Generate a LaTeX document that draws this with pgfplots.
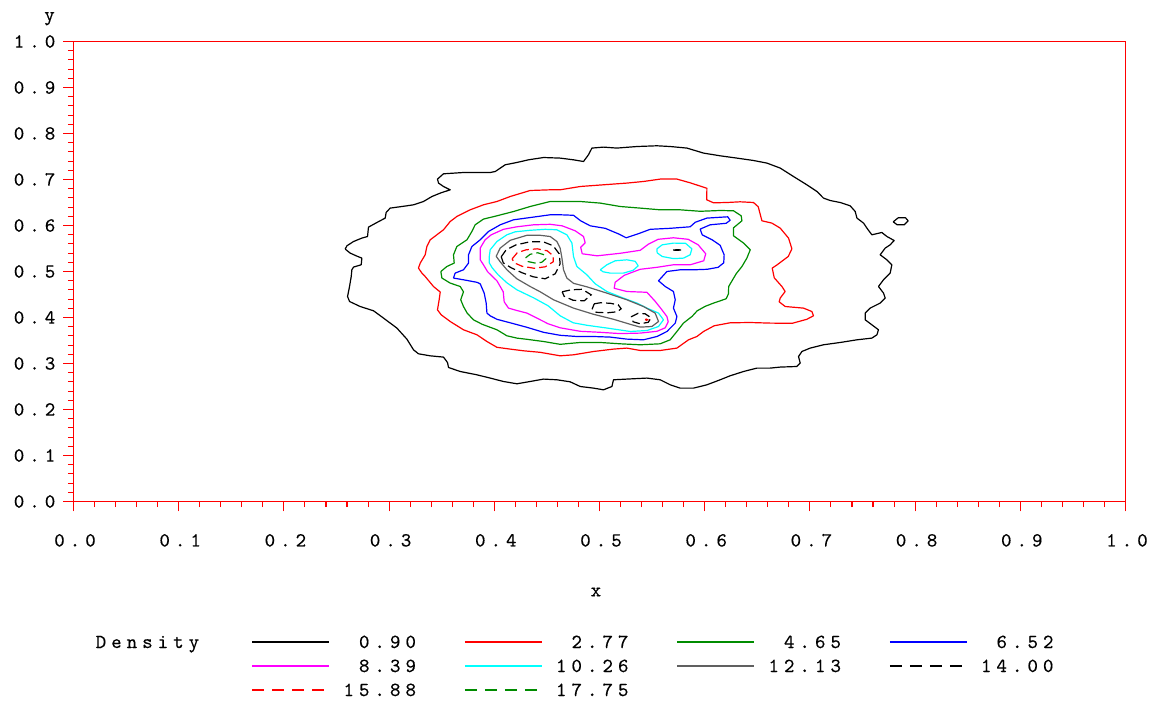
\documentclass[border=0pt]{standalone}
\usepackage{fontspec}
\setmonofont{lmmono10-regular.otf}[LetterSpace=25, FakeBold=0.3]
\usepackage{pgfplots}
\pgfplotsset{compat=1.18}
\definecolor{cgreen}{RGB}{0,140,0}
\definecolor{cgray}{RGB}{96,96,96}
\definecolor{cmag}{RGB}{255,0,255}
\definecolor{ccyan}{RGB}{0,255,255}
\newcommand\f{\fontsize{20pt}{22pt}\ttfamily\selectfont}
\begin{document}
\begin{tikzpicture}[x=1pt,y=1pt]
\path[use as bounding box] (0,0) rectangle (1152,705);
\begin{axis}[
  at={(73.5pt,203.5pt)}, anchor=south west,
  scale only axis, width=1052pt, height=460pt,
  xmin=0, xmax=1, ymin=0, ymax=1,
  no markers,
  axis line style={red, line width=1.4pt},
  xtick={0,0.1,0.2,0.3,0.4,0.5,0.6,0.7,0.8,0.9,1},
  ytick={0,0.1,0.2,0.3,0.4,0.5,0.6,0.7,0.8,0.9,1},
  minor x tick num=4, minor y tick num=4,
  tick align=outside, tick pos=left,
  major tick length=10pt, minor tick length=5.5pt,
  every tick/.style={red, line width=1.1pt},
  /pgf/number format/fixed, /pgf/number format/fixed zerofill,
  /pgf/number format/precision=1, /pgf/number format/assume math mode=true,
  tick label style={font=\f, inner sep=0pt},
  xticklabel style={anchor=base, yshift=-35pt, xshift=1.5pt},
  yticklabel style={anchor=east, xshift=-8pt},
  every axis x label/.style={at={(axis description cs:0.4966,-0.2061)}, anchor=base, font=\f, inner sep=0pt},
  every axis y label/.style={at={(axis description cs:-0.0228,1.045)}, anchor=base, font=\f, inner sep=0pt},
  xlabel={x}, ylabel={y},
  legend columns=4,
  legend style={at={(0.1692,-0.2924)}, anchor=north west, draw=none, fill=none,
    inner sep=0pt, outer sep=0pt, column sep=11pt, row sep=12pt, font=\f,
    nodes={inner sep=0pt, text width=75pt, align=right, text height=12pt, text depth=0pt},
    /tikz/every even column/.append style={column sep=48pt}},
  legend image code/.code={\draw[#1] (0pt,0pt) -- (77pt,0pt);},
]
% ---- legend images ----
\addlegendimage{black, line width=1.5pt}\addlegendentry{0.90}
\addlegendimage{red, line width=1.5pt}\addlegendentry{2.77}
\addlegendimage{cgreen, line width=1.5pt}\addlegendentry{4.65}
\addlegendimage{blue, line width=1.5pt}\addlegendentry{6.52}
\addlegendimage{cmag, line width=1.5pt}\addlegendentry{8.39}
\addlegendimage{ccyan, line width=1.5pt}\addlegendentry{10.26}
\addlegendimage{cgray, line width=1.5pt}\addlegendentry{12.13}
\addlegendimage{black, line width=1.5pt, dash pattern=on 12pt off 8pt}\addlegendentry{14.00}
\addlegendimage{red, line width=1.5pt, dash pattern=on 12pt off 8pt}\addlegendentry{15.88}
\addlegendimage{cgreen, line width=1.5pt, dash pattern=on 12pt off 8pt}\addlegendentry{17.75}
% ---- density 0.90 ----
\addplot[forget plot, black, line width=1.2pt, line join=round] coordinates {
(0.2583,0.5487) (0.2599,0.5559) (0.2662,0.5652) (0.2741,0.5726) (0.2795,0.5761) (0.2804,0.5965) (0.2884,0.6065) (0.2963,0.6161) (0.2972,0.6283) (0.3010,0.6378) (0.3169,0.6428) (0.3232,0.6450) (0.3327,0.6522) (0.3407,0.6630) (0.3486,0.6704) (0.3581,0.6776) (0.3517,0.6848) (0.3470,0.6922) (0.3460,0.7009) (0.3517,0.7124) (0.3707,0.7152) (0.3961,0.7152) (0.4009,0.7174) (0.4104,0.7320) (0.4215,0.7370) (0.4325,0.7428) (0.4468,0.7478) (0.4626,0.7465) (0.4753,0.7428) (0.4848,0.7391) (0.4895,0.7537) (0.4928,0.7683) (0.5038,0.7704) (0.5165,0.7683) (0.5356,0.7717) (0.5546,0.7733) (0.5672,0.7717) (0.5831,0.7683) (0.5989,0.7574) (0.6147,0.7515) (0.6306,0.7465) (0.6464,0.7413) (0.6591,0.7357) (0.6718,0.7248) (0.6844,0.7065) (0.6971,0.6885) (0.7067,0.6739) (0.7129,0.6596) (0.7193,0.6543) (0.7288,0.6500) (0.7383,0.6428) (0.7431,0.6304) (0.7447,0.6161) (0.7510,0.6052) (0.7542,0.5943) (0.7589,0.5798) (0.7684,0.5848) (0.7732,0.5761) (0.7801,0.5674) (0.7763,0.5580) (0.7716,0.5509) (0.7668,0.5363) (0.7732,0.5254) (0.7779,0.5146) (0.7763,0.4965) (0.7700,0.4820) (0.7652,0.4674) (0.7700,0.4530) (0.7716,0.4422) (0.7668,0.4313) (0.7573,0.4204) (0.7526,0.4096) (0.7526,0.3950) (0.7589,0.3841) (0.7652,0.3733) (0.7637,0.3624) (0.7589,0.3552) (0.7447,0.3515) (0.7288,0.3457) (0.7129,0.3407) (0.7003,0.3335) (0.6924,0.3261) (0.6892,0.3152) (0.6908,0.3009) (0.6876,0.2935) (0.6718,0.2922) (0.6623,0.2900) (0.6496,0.2900) (0.6369,0.2826) (0.6242,0.2733) (0.6147,0.2646) (0.6021,0.2537) (0.5894,0.2465) (0.5767,0.2465) (0.5672,0.2537) (0.5577,0.2646) (0.5451,0.2683) (0.5260,0.2661) (0.5133,0.2646) (0.5118,0.2500) (0.5038,0.2428) (0.4943,0.2465) (0.4817,0.2500) (0.4721,0.2602) (0.4595,0.2646) (0.4468,0.2661) (0.4341,0.2609) (0.4215,0.2559) (0.4087,0.2609) (0.3961,0.2683) (0.3835,0.2754) (0.3676,0.2826) (0.3565,0.2913) (0.3555,0.3022) (0.3517,0.3139) (0.3390,0.3167) (0.3279,0.3211) (0.3232,0.3298) (0.3169,0.3530) (0.3074,0.3770) (0.2947,0.3987) (0.2852,0.4146) (0.2725,0.4239) (0.2624,0.4348) (0.2605,0.4457) (0.2624,0.4674) (0.2640,0.4891) (0.2646,0.5037) (0.2662,0.5096) (0.2735,0.5146) (0.2741,0.5291) (0.2687,0.5341) (0.2630,0.5400) (0.2583,0.5487)
};
\addplot[forget plot, black, line width=1.2pt, line join=round] coordinates {
(0.7792,0.6080) (0.7839,0.6167) (0.7909,0.6167) (0.7934,0.6102) (0.7896,0.6015) (0.7830,0.6015) (0.7792,0.6080)
};
% ---- density 2.77 ----
\addplot[forget plot, red, line width=1.2pt, line join=round] coordinates {
(0.3279,0.5074) (0.3296,0.5183) (0.3343,0.5363) (0.3359,0.5543) (0.3391,0.5689) (0.3454,0.5798) (0.3517,0.5907) (0.3581,0.6087) (0.3644,0.6196) (0.3771,0.6341) (0.3897,0.6450) (0.4025,0.6522) (0.4151,0.6630) (0.4341,0.6761) (0.4531,0.6776) (0.4626,0.6776) (0.4817,0.6848) (0.5038,0.6885) (0.5260,0.6922) (0.5418,0.6957) (0.5577,0.7009) (0.5736,0.7009) (0.5862,0.6928) (0.6021,0.6809) (0.6019,0.6559) (0.6084,0.6493) (0.6211,0.6500) (0.6337,0.6515) (0.6464,0.6500) (0.6509,0.6407) (0.6544,0.6102) (0.6639,0.6052) (0.6718,0.5943) (0.6797,0.5726) (0.6829,0.5493) (0.6794,0.5326) (0.6689,0.5146) (0.6642,0.5074) (0.6661,0.4863) (0.6734,0.4674) (0.6765,0.4565) (0.6718,0.4422) (0.6708,0.4341) (0.6765,0.4239) (0.6939,0.4204) (0.7019,0.4130) (0.7034,0.4037) (0.6971,0.3961) (0.6832,0.3874) (0.6623,0.3878) (0.6433,0.3891) (0.6242,0.3885) (0.6090,0.3820) (0.5989,0.3696) (0.5926,0.3587) (0.5846,0.3515) (0.5736,0.3335) (0.5577,0.3283) (0.5387,0.3283) (0.5260,0.3335) (0.5133,0.3313) (0.4943,0.3261) (0.4753,0.3189) (0.4626,0.3167) (0.4436,0.3243) (0.4278,0.3276) (0.4151,0.3313) (0.4025,0.3352) (0.3930,0.3478) (0.3835,0.3624) (0.3707,0.3733) (0.3581,0.3913) (0.3495,0.4059) (0.3460,0.4167) (0.3476,0.4385) (0.3486,0.4554) (0.3422,0.4674) (0.3343,0.4891) (0.3312,0.4965) (0.3279,0.5074)
};
% ---- density 4.65 ----
\addplot[forget plot, cgreen, line width=1.2pt, line join=round] coordinates {
(0.3492,0.5000) (0.3549,0.5109) (0.3619,0.5183) (0.3612,0.5363) (0.3644,0.5543) (0.3740,0.5689) (0.3787,0.5870) (0.3818,0.6015) (0.3897,0.6139) (0.4025,0.6211) (0.4183,0.6304) (0.4341,0.6413) (0.4531,0.6522) (0.4817,0.6522) (0.5007,0.6487) (0.5197,0.6413) (0.5387,0.6378) (0.5577,0.6341) (0.5767,0.6341) (0.5957,0.6309) (0.6147,0.6326) (0.6274,0.6320) (0.6347,0.6211) (0.6354,0.6102) (0.6274,0.5950) (0.6274,0.5776) (0.6366,0.5624) (0.6433,0.5472) (0.6401,0.5291) (0.6354,0.5109) (0.6299,0.4950) (0.6228,0.4674) (0.6226,0.4515) (0.6204,0.4407) (0.6084,0.4313) (0.6005,0.4243) (0.5929,0.4146) (0.5881,0.4026) (0.5798,0.3878) (0.5736,0.3696) (0.5672,0.3515) (0.5577,0.3428) (0.5387,0.3407) (0.5197,0.3428) (0.5007,0.3457) (0.4817,0.3457) (0.4626,0.3417) (0.4468,0.3478) (0.4310,0.3526) (0.4215,0.3552) (0.4120,0.3602) (0.4025,0.3733) (0.3885,0.3852) (0.3802,0.3950) (0.3742,0.4096) (0.3707,0.4239) (0.3681,0.4385) (0.3707,0.4559) (0.3676,0.4674) (0.3581,0.4748) (0.3502,0.4857) (0.3492,0.5000)
};
% ---- density 6.52 ----
\addplot[forget plot, blue, line width=1.2pt, line join=round] coordinates {
(0.3612,0.4857) (0.3628,0.4965) (0.3707,0.5037) (0.3755,0.5183) (0.3755,0.5363) (0.3787,0.5543) (0.3866,0.5689) (0.3945,0.5870) (0.4056,0.6015) (0.4183,0.6124) (0.4373,0.6183) (0.4531,0.6233) (0.4626,0.6233) (0.4753,0.6222) (0.4821,0.6102) (0.4912,0.5993) (0.5054,0.5939) (0.5178,0.5820) (0.5254,0.5733) (0.5368,0.5820) (0.5482,0.5917) (0.5672,0.5939) (0.5862,0.5972) (0.5910,0.6070) (0.6021,0.6161) (0.6219,0.6189) (0.6242,0.6113) (0.6204,0.6048) (0.6052,0.6015) (0.5957,0.5922) (0.5976,0.5798) (0.6071,0.5689) (0.6147,0.5570) (0.6185,0.5363) (0.6181,0.5189) (0.6128,0.5091) (0.6024,0.5048) (0.5894,0.5037) (0.5767,0.5037) (0.5641,0.5000) (0.5561,0.4798) (0.5625,0.4674) (0.5703,0.4565) (0.5720,0.4385) (0.5703,0.4204) (0.5736,0.4022) (0.5720,0.3878) (0.5641,0.3696) (0.5546,0.3587) (0.5418,0.3515) (0.5260,0.3530) (0.5102,0.3574) (0.4943,0.3587) (0.4785,0.3587) (0.4626,0.3613) (0.4468,0.3678) (0.4310,0.3787) (0.4151,0.3885) (0.4025,0.3961) (0.3961,0.4037) (0.3930,0.4096) (0.3923,0.4313) (0.3904,0.4530) (0.3866,0.4733) (0.3835,0.4765) (0.3707,0.4820) (0.3612,0.4857)
};
% ---- density 8.39 ----
\addplot[forget plot, cmag, line width=1.2pt, line join=round] coordinates {
(0.3866,0.5254) (0.3866,0.5509) (0.3913,0.5689) (0.3971,0.5798) (0.4087,0.5917) (0.4215,0.5972) (0.4373,0.6015) (0.4531,0.6026) (0.4645,0.5993) (0.4769,0.5885) (0.4848,0.5761) (0.4864,0.5624) (0.4821,0.5526) (0.4836,0.5385) (0.4978,0.5341) (0.5197,0.5396) (0.5387,0.5461) (0.5463,0.5591) (0.5558,0.5700) (0.5703,0.5733) (0.5843,0.5700) (0.5938,0.5580) (0.6010,0.5385) (0.5991,0.5233) (0.5862,0.5146) (0.5703,0.5146) (0.5546,0.5091) (0.5387,0.5048) (0.5235,0.4917) (0.5149,0.4765) (0.5140,0.4635) (0.5260,0.4565) (0.5451,0.4548) (0.5525,0.4363) (0.5582,0.4200) (0.5641,0.4022) (0.5653,0.3907) (0.5625,0.3776) (0.5546,0.3700) (0.5387,0.3661) (0.5197,0.3650) (0.5007,0.3678) (0.4817,0.3700) (0.4626,0.3776) (0.4512,0.3863) (0.4405,0.3987) (0.4310,0.4096) (0.4215,0.4152) (0.4135,0.4204) (0.4094,0.4341) (0.4085,0.4559) (0.4025,0.4798) (0.3937,0.4993) (0.3897,0.5146) (0.3866,0.5254)
};
% ---- density 10.26 ----
\addplot[forget plot, ccyan, line width=1.2pt, line join=round] coordinates {
(0.3952,0.5320) (0.3961,0.5472) (0.4025,0.5652) (0.4120,0.5798) (0.4199,0.5863) (0.4341,0.5896) (0.4484,0.5917) (0.4595,0.5907) (0.4690,0.5798) (0.4738,0.5617) (0.4753,0.5326) (0.4785,0.5109) (0.4880,0.4928) (0.4959,0.4733) (0.5070,0.4565) (0.5228,0.4422) (0.5356,0.4313) (0.5451,0.4204) (0.5561,0.4096) (0.5608,0.3950) (0.5561,0.3804) (0.5451,0.3717) (0.5292,0.3696) (0.5073,0.3770) (0.4883,0.3830) (0.4750,0.3885) (0.4626,0.4037) (0.4512,0.4254) (0.4373,0.4428) (0.4215,0.4602) (0.4120,0.4754) (0.4037,0.4928) (0.3980,0.5080) (0.3952,0.5189) (0.3952,0.5320)
};
\addplot[forget plot, ccyan, line width=1.2pt, line join=round] coordinates {
(0.5007,0.5037) (0.5070,0.5146) (0.5149,0.5233) (0.5260,0.5254) (0.5339,0.5222) (0.5368,0.5124) (0.5320,0.5026) (0.5228,0.4965) (0.5102,0.4965) (0.5035,0.4993) (0.5007,0.5037)
};
\addplot[forget plot, ccyan, line width=1.2pt, line join=round] coordinates {
(0.5546,0.5493) (0.5596,0.5580) (0.5704,0.5617) (0.5818,0.5613) (0.5878,0.5493) (0.5862,0.5363) (0.5798,0.5291) (0.5704,0.5280) (0.5596,0.5326) (0.5548,0.5407) (0.5546,0.5493)
};
% ---- density 12.13 ----
\addplot[forget plot, cgray, line width=1.2pt, line join=round] coordinates {
(0.4018,0.5330) (0.4056,0.5509) (0.4151,0.5678) (0.4310,0.5787) (0.4436,0.5787) (0.4531,0.5761) (0.4595,0.5652) (0.4626,0.5509) (0.4643,0.5291) (0.4658,0.5037) (0.4690,0.4857) (0.4753,0.4743) (0.4880,0.4667) (0.5070,0.4530) (0.5260,0.4385) (0.5418,0.4239) (0.5529,0.4096) (0.5561,0.3913) (0.5498,0.3804) (0.5387,0.3791) (0.5292,0.3852) (0.5133,0.3961) (0.4943,0.4070) (0.4753,0.4204) (0.4563,0.4385) (0.4436,0.4559) (0.4341,0.4674) (0.4215,0.4841) (0.4120,0.5037) (0.4056,0.5211) (0.4018,0.5330)
};
% ---- density 14.00 ----
\addplot[forget plot, black, line width=1.2pt, dash pattern=on 8pt off 4pt] coordinates {
(0.4066,0.5320) (0.4113,0.5472) (0.4208,0.5580) (0.4341,0.5646) (0.4465,0.5646) (0.4560,0.5559) (0.4617,0.5385) (0.4626,0.5167) (0.4579,0.4950) (0.4484,0.4841) (0.4370,0.4885) (0.4265,0.4972) (0.4161,0.5080) (0.4085,0.5189) (0.4066,0.5320)
};
\addplot[forget plot, black, line width=1.2pt, dash pattern=on 8pt off 4pt] coordinates {
(0.4645,0.4559) (0.4731,0.4602) (0.4836,0.4613) (0.4921,0.4493) (0.4855,0.4363) (0.4750,0.4374) (0.4664,0.4461) (0.4645,0.4559)
};
\addplot[forget plot, black, line width=1.2pt, dash pattern=on 8pt off 4pt] coordinates {
(0.4950,0.4298) (0.5007,0.4320) (0.5102,0.4309) (0.5178,0.4276) (0.5206,0.4189) (0.5168,0.4124) (0.5073,0.4102) (0.4969,0.4113) (0.4931,0.4189) (0.4950,0.4298)
};
\addplot[forget plot, black, line width=1.2pt, dash pattern=on 8pt off 4pt] coordinates {
(0.5301,0.4015) (0.5368,0.4091) (0.5434,0.4080) (0.5491,0.3993) (0.5463,0.3896) (0.5387,0.3863) (0.5320,0.3907) (0.5301,0.4015)
};
\addplot[forget plot, black, line width=1.2pt] coordinates {
(0.5700,0.5466) (0.5740,0.5475) (0.5776,0.5468) (0.5740,0.5460) (0.5700,0.5466)
};
% ---- density 15.88 ----
\addplot[forget plot, red, line width=1.2pt, dash pattern=on 8pt off 4pt] coordinates {
(0.4170,0.5276) (0.4218,0.5407) (0.4303,0.5472) (0.4408,0.5493) (0.4503,0.5450) (0.4560,0.5341) (0.4560,0.5211) (0.4484,0.5102) (0.4379,0.5070) (0.4265,0.5113) (0.4189,0.5189) (0.4170,0.5276)
};
\addplot[forget plot, red, line width=1.2pt] coordinates {
(0.5434,0.3955) (0.5446,0.3965) (0.5458,0.3950) (0.5446,0.3940) (0.5434,0.3955)
};
% ---- density 17.75 ----
\addplot[forget plot, cgreen, line width=1.2pt, dash pattern=on 8pt off 4pt] coordinates {
(0.4298,0.5298) (0.4341,0.5374) (0.4413,0.5407) (0.4474,0.5363) (0.4489,0.5276) (0.4451,0.5200) (0.4389,0.5183) (0.4322,0.5215) (0.4298,0.5298)
};
\end{axis}
\node[anchor=base west, inner sep=0pt, font=\f] at (95.5,57) {Density};
\end{tikzpicture}
\end{document}
